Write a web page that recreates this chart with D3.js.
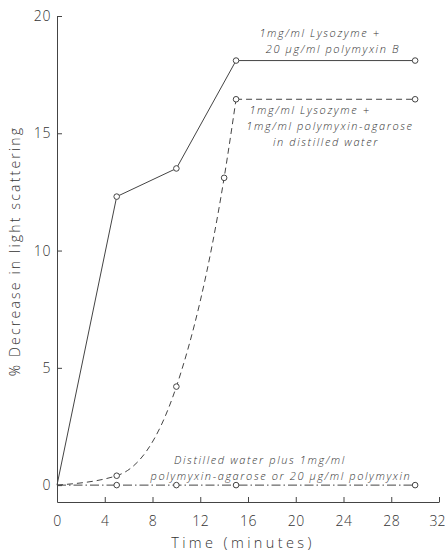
<!DOCTYPE html>
<html><head><meta charset="utf-8">
<script src="https://cdn.jsdelivr.net/npm/d3@7"></script>
<style>
html,body{margin:0;padding:0;background:#fff;}
svg text{font-family:"Open Sans","DejaVu Sans",sans-serif;font-weight:300;fill:#333;}
</style></head><body>
<svg id="chart" width="445" height="553"></svg>
<script>
// Data
const timeMinutes = [0, 5, 10, 15, 30];
const lysozymePolymyxinB = [0, 12.3, 13.5, 18.1, 18.1];
const lysoTimes = [0, 5, 10, 14, 15, 30];
const lysozymeAgarose = [0, 0.4, 4.2, 13.1, 16.45, 16.45];
const controlValues = [0, 0, 0, 0, 0];
const xTicks = [0, 4, 8, 12, 16, 20, 24, 28, 32];
const yTicks = [0, 5, 10, 15, 20];
const labelA = ["1mg/ml Lysozyme +", "20 \u03bcg/ml polymyxin B"];
const labelB = ["1mg/ml Lysozyme +", "1mg/ml polymyxin-agarose", "in distilled water"];
const labelC = ["Distilled water plus 1mg/ml", "polymyxin-agarose or 20 \u03bcg/ml polymyxin"];

const svg = d3.select("#chart");
const ink = "#444";
const x = d3.scaleLinear().domain([0, 32]).range([57, 439]);
const y = d3.scaleLinear().domain([-0.72, 20]).range([502, 16]);

// axes
const yAxis = d3.axisLeft(y).tickValues(yTicks).tickSize(-5).tickSizeOuter(0).tickPadding(6).tickFormat(d3.format("d"));
const gy = svg.append("g").attr("transform", `translate(${x(0)},0)`).call(yAxis);
const xAxis = d3.axisBottom(x).tickValues(xTicks).tickSize(-5).tickSizeOuter(0).tickPadding(14).tickFormat(d3.format("d"));
const gx = svg.append("g").attr("transform", `translate(0,${y(-0.72)})`).call(xAxis);
[gx, gy].forEach(g => {
  g.selectAll("path,line").attr("stroke", ink).attr("stroke-width", 1);
  g.selectAll("text").attr("font-size", 14).attr("letter-spacing", 0.6).attr("fill", "#333")
    .style("font-family", '"Open Sans","DejaVu Sans",sans-serif').style("font-weight", 300);
});
gx.selectAll("text").filter(d => d === 32).attr("letter-spacing", 0).attr("dx", -2);

// axis titles
svg.append("text").attr("x", 243).attr("y", 548).attr("text-anchor", "middle")
  .attr("font-size", 14.5).attr("letter-spacing", 3.4).text("Time (minutes)");
svg.append("text").attr("transform", "translate(20,251) rotate(-90)").attr("text-anchor", "middle")
  .attr("font-size", 14).attr("letter-spacing", 2.2).text("% Decrease in light scattering");

const lin = d3.line().x(d => x(d[0])).y(d => y(d[1]));
const smooth = d3.line().x(d => x(d[0])).y(d => y(d[1])).curve(d3.curveMonotoneX);

// series A solid
const ptsA = timeMinutes.map((t, i) => [t, lysozymePolymyxinB[i]]);
svg.append("path").attr("d", lin(ptsA)).attr("fill", "none").attr("stroke", ink).attr("stroke-width", 1);

// series B dashed: smooth rise then straight plateau
const ptsB = lysoTimes.map((t, i) => [t, lysozymeAgarose[i]]);
svg.append("path").attr("d", smooth(ptsB.slice(0, 5))).attr("fill", "none").attr("stroke", ink)
  .attr("stroke-width", 1).attr("stroke-dasharray", "6,4");
svg.append("path").attr("d", lin(ptsB.slice(4))).attr("fill", "none").attr("stroke", ink)
  .attr("stroke-width", 1).attr("stroke-dasharray", "6,4");

// series C dash-dot
const ptsC = timeMinutes.map((t, i) => [t, controlValues[i]]);
svg.append("path").attr("d", lin(ptsC)).attr("fill", "none").attr("stroke", ink)
  .attr("stroke-width", 1).attr("stroke-dasharray", "9,3,1.5,3");

// markers (skip origin)
[ptsA, ptsB, ptsC].forEach(pts => {
  svg.append("g").selectAll("circle").data(pts.filter(d => d[0] > 0)).join("circle")
    .attr("cx", d => x(d[0])).attr("cy", d => y(d[1])).attr("r", 2.8)
    .attr("fill", "#fff").attr("stroke", ink).attr("stroke-width", 1);
});

// annotations
function label(lines, xs, ys) {
  lines.forEach((s, i) => {
    svg.append("text").attr("x", xs[i]).attr("y", ys[i]).attr("text-anchor", "middle")
      .attr("font-size", 11).attr("letter-spacing", 1.6).attr("font-style", "italic").text(s);
  });
}
label(labelA, [320, 333], [37, 53]);
label(labelB, [310, 330, 326], [114, 130, 146]);
label(labelC, [260, 281], [464, 480]);
</script>
</body></html>
